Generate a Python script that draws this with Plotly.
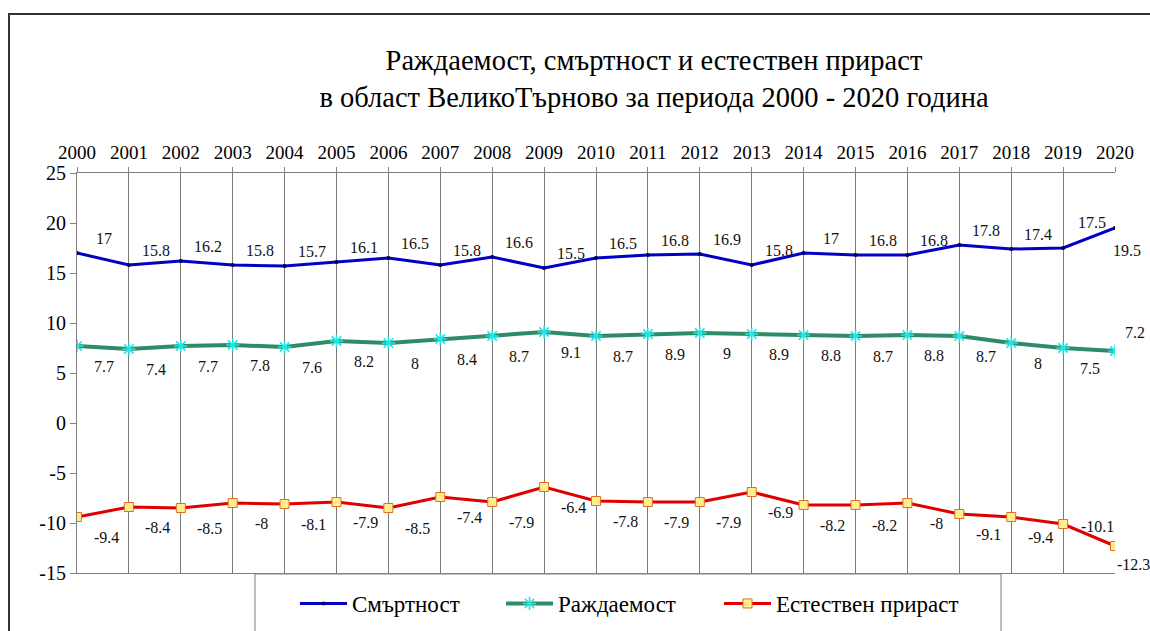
import plotly.graph_objects as go

# Години
years = [2000, 2001, 2002, 2003, 2004, 2005, 2006, 2007, 2008, 2009, 2010,
         2011, 2012, 2013, 2014, 2015, 2016, 2017, 2018, 2019, 2020]

# Смъртност (на 1000 души)
mortality = [17, 15.8, 16.2, 15.8, 15.7, 16.1, 16.5, 15.8, 16.6, 15.5, 16.5,
             16.8, 16.9, 15.8, 17, 16.8, 16.8, 17.8, 17.4, 17.5, 19.5]

# Раждаемост (на 1000 души)
births = [7.7, 7.4, 7.7, 7.8, 7.6, 8.2, 8, 8.4, 8.7, 9.1, 8.7,
          8.9, 9, 8.9, 8.8, 8.7, 8.8, 8.7, 8, 7.5, 7.2]

# Естествен прираст (на 1000 души)
growth = [-9.4, -8.4, -8.5, -8, -8.1, -7.9, -8.5, -7.4, -7.9, -6.4, -7.8,
          -7.9, -7.9, -6.9, -8.2, -8.2, -8, -9.1, -9.4, -10.1, -12.3]

y_ticks = [-15, -10, -5, 0, 5, 10, 15, 20, 25]

FONT = "Liberation Serif, Times New Roman, serif"
W, H = 1150, 631
L, R, T, B = 77, 35, 173, 58          # plot area: x 77..1115, y 173..573
PW, PH = W - L - R, H - T - B


def px_x(px):
    return (px - L) / PW


def px_y(py):
    return (H - B - py) / PH


fig = go.Figure()

fig.add_trace(go.Scatter(
    x=years, y=mortality, name="Смъртност", mode="lines+markers",
    line=dict(color="#0000C8", width=3),
    marker=dict(symbol="circle", size=4, color="#000050"),
    legend="legend",
))
fig.add_trace(go.Scatter(
    x=years, y=births, name="Раждаемост", mode="lines+markers",
    line=dict(color="#2E8B68", width=4),
    marker=dict(symbol="asterisk-open", size=11, color="#22E6E6",
                line=dict(width=1.6)),
    legend="legend2",
))
fig.add_trace(go.Scatter(
    x=years, y=growth, name="Естествен прираст", mode="lines+markers",
    line=dict(color="#E00000", width=3),
    marker=dict(symbol="square", size=9, color="#FFEE90",
                line=dict(color="#E07020", width=1)),
    legend="legend3",
))

# data labels: default pixel offset per series, with a few tweaks at the end
label_style = [
    (mortality, (27, 15), {19: (29, 26), 20: (12, -22)}),
    (births, (27, -20), {20: (20, 19)}),
    (growth, (29, -20), {19: (34, -2), 20: (18, -18)}),
]
annotations = []
for values, (dx, dy), special in label_style:
    for i, (yr, v) in enumerate(zip(years, values)):
        sx, sy = special.get(i, (dx, dy))
        annotations.append(dict(
            x=yr, y=v, xref="x", yref="y", text=f"{v:g}", showarrow=False,
            xshift=sx, yshift=sy, font=dict(family=FONT, size=16, color="#111"),
        ))

shapes = [
    # outer frame of the chart
    dict(type="rect", xref="paper", yref="paper",
         x0=px_x(9), x1=px_x(1162), y0=px_y(645), y1=px_y(14),
         line=dict(color="#333333", width=2), layer="below"),
    # legend frame
    dict(type="rect", xref="paper", yref="paper",
         x0=px_x(255), x1=px_x(1001), y0=px_y(645), y1=px_y(574),
         line=dict(color="#808080", width=1), layer="below"),
]


def legend_at(px):
    return dict(
        orientation="h", x=px_x(px - 5), xanchor="left",
        y=px_y(582), yanchor="top", bgcolor="rgba(0,0,0,0)",
        borderwidth=0, font=dict(family=FONT, size=23, color="black"),
        itemwidth=47,
    )


fig.update_layout(
    width=W, height=H, autosize=False,
    margin=dict(l=L, r=R, t=T, b=B, autoexpand=False),
    paper_bgcolor="white", plot_bgcolor="white",
    font=dict(family=FONT, color="black"),
    title=dict(
        text="Раждаемост, смъртност и естествен прираст<br>"
             "в област ВеликоТърново за периода 2000 - 2020 година",
        x=654 / W, xanchor="center", xref="container",
        y=1 - 70 / H, yanchor="top", yref="container",
        font=dict(family=FONT, size=28.5, color="black"),
    ),
    xaxis=dict(
        side="top", range=[2000, 2020], tickmode="array",
        tickvals=years, ticktext=[str(y) for y in years],
        ticks="outside", ticklen=5, tickcolor="#808080",
        showgrid=True, gridcolor="#7a7a7a", gridwidth=1,
        showline=True, linecolor="#808080", linewidth=1, mirror=True,
        zeroline=False, tickfont=dict(family=FONT, size=19, color="black"),
    ),
    yaxis=dict(
        range=[-15, 25], tickmode="array", tickvals=y_ticks,
        ticktext=[str(v) for v in y_ticks],
        ticks="outside", ticklen=6, tickcolor="#808080",
        showgrid=False, zeroline=False,
        showline=True, linecolor="#808080", linewidth=1,
        tickfont=dict(family=FONT, size=20, color="black"),
    ),
    legend=legend_at(300),
    legend2=legend_at(506),
    legend3=legend_at(724),
    annotations=annotations,
    shapes=shapes,
    showlegend=True,
)

fig.write_html("out.html")
